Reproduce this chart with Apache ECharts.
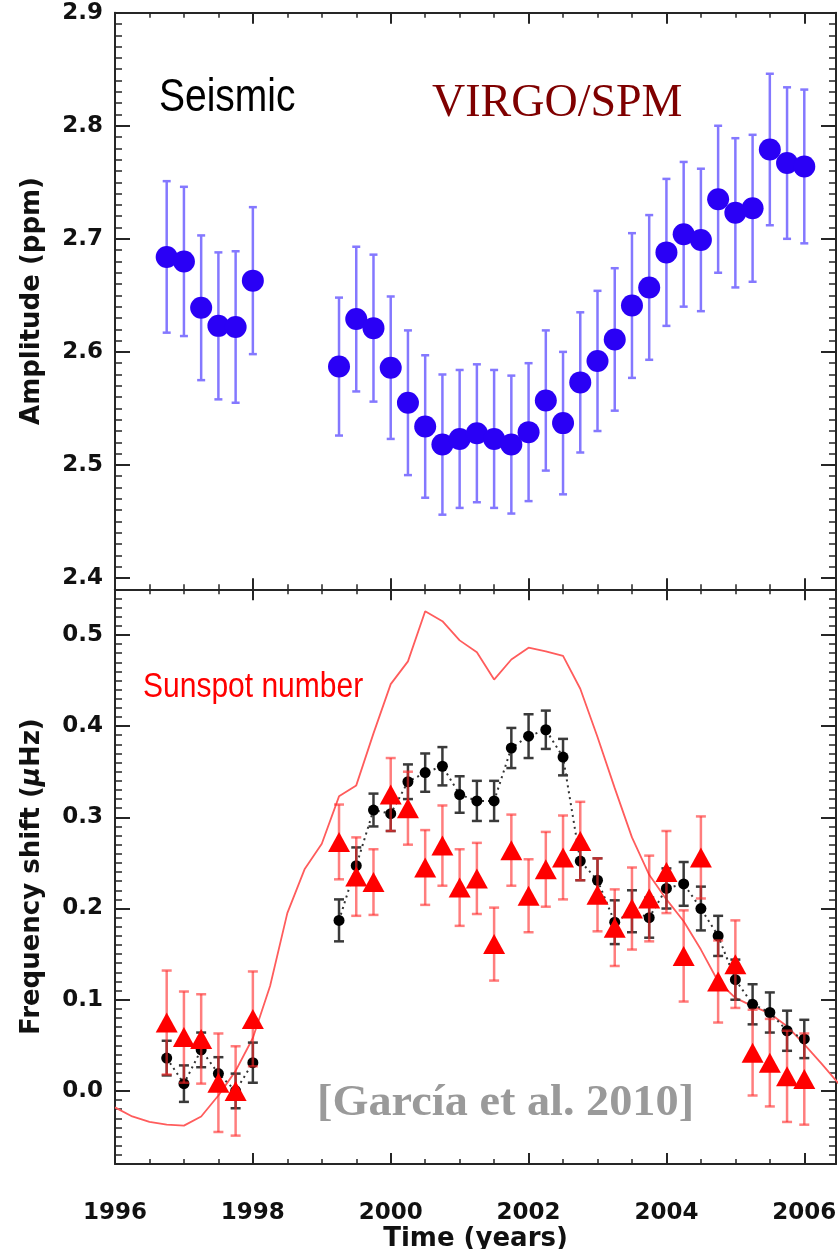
<!DOCTYPE html>
<html><head><meta charset="utf-8">
<script src="https://cdn.jsdelivr.net/npm/echarts@6/dist/echarts.min.js"></script>
<style>html,body{margin:0;padding:0;background:#fff}#c{width:838px;height:1249px}</style>
</head><body><div id="c"></div>
<script>
// ---------------- data ----------------
const years = [1996.75,1997,1997.25,1997.5,1997.75,1998,
  1999.25,1999.5,1999.75,2000,2000.25,2000.5,2000.75,2001,2001.25,2001.5,2001.75,
  2002,2002.25,2002.5,2002.75,2003,2003.25,2003.5,2003.75,2004,2004.25,2004.5,2004.75,
  2005,2005.25,2005.5,2005.75,2006];
const amplitude = [2.684,2.680,2.639,2.623,2.622,2.663,
  2.587,2.629,2.621,2.586,2.555,2.534,2.518,2.523,2.528,2.523,2.518,
  2.529,2.557,2.537,2.573,2.592,2.611,2.641,2.657,2.688,2.704,2.699,2.735,
  2.723,2.727,2.779,2.767,2.764];
const amplitudeErr = [0.067,0.066,0.064,0.065,0.067,0.065,
  0.061,0.064,0.065,0.063,0.064,0.063,0.062,0.061,0.061,0.061,0.061,
  0.061,0.062,0.063,0.062,0.062,0.063,0.064,0.064,0.065,0.064,0.063,0.065,
  0.066,0.065,0.067,0.067,0.068];
const freqShift = [0.036,0.008,0.045,0.019,0.000,0.031,
  0.187,0.247,0.308,0.304,0.339,0.349,0.356,0.325,0.318,0.318,0.376,
  0.389,0.396,0.366,0.252,0.231,0.185,0.197,0.190,0.222,0.227,0.200,0.170,
  0.122,0.095,0.086,0.066,0.057];
const freqShiftErr = [0.019,0.020,0.019,0.018,0.019,0.022,
  0.023,0.020,0.018,0.019,0.019,0.021,0.021,0.020,0.022,0.022,0.022,
  0.024,0.021,0.020,0.021,0.024,0.024,0.023,0.022,0.022,0.024,0.024,0.022,
  0.022,0.022,0.022,0.022,0.021];
const freqShiftSpm = [0.075,0.059,0.057,0.009,0.000,0.079,
  0.273,0.235,0.229,0.325,0.310,0.245,0.269,0.223,0.233,0.161,0.264,
  0.214,0.243,0.256,0.274,0.215,0.179,0.200,0.211,0.240,0.148,0.256,0.120,
  0.139,0.042,0.031,0.016,0.013];
const freqShiftSpmErr = [0.057,0.050,0.049,0.054,0.049,0.052,
  0.041,0.043,0.036,0.040,0.040,0.041,0.044,0.042,0.039,0.040,0.039,
  0.040,0.041,0.046,0.043,0.040,0.042,0.045,0.047,0.045,0.050,0.045,0.045,
  0.048,0.047,0.048,0.050,0.050];
const sunspotYears = [1996,1996.25,1996.5,1996.75,1997,1997.25,1997.5,1997.75,1998,1998.25,1998.5,1998.75,
  1999,1999.25,1999.5,1999.75,2000,2000.25,2000.5,2000.75,2001,2001.25,2001.5,2001.75,
  2002,2002.25,2002.5,2002.75,2003,2003.25,2003.5,2003.75,2004,2004.25,2004.5,2004.75,
  2005,2005.25,2005.5,2005.75,2006,2006.25,2006.5];
const sunspotScaled = [-0.018,-0.028,-0.034,-0.037,-0.038,-0.028,-0.005,0.022,0.058,0.115,0.195,0.243,
  0.271,0.323,0.335,0.392,0.446,0.471,0.526,0.515,0.494,0.481,0.451,0.473,
  0.486,0.482,0.477,0.441,0.388,0.332,0.278,0.237,0.210,0.186,0.155,0.120,
  0.102,0.093,0.085,0.071,0.051,0.030,0.008];
const xTickLabels = [1996,1998,2000,2002,2004,2006];
const ampTickLabels = [2.4,2.5,2.6,2.7,2.8,2.9];
const shiftTickLabels = [0.0,0.1,0.2,0.3,0.4,0.5];
const xRange = [1996, 2006.46];
const ampRange = [2.39, 2.9];
const shiftRange = [-0.08, 0.55];

// ---------------- helpers ----------------
const AX = '#262626';
const tickFont = {fontFamily:'DejaVu Sans', fontWeight:'bold', fontSize:23, color:'#111'};
const nameFont = {fontFamily:'DejaVu Sans', fontWeight:'bold', fontSize:26, color:'#111'};

function xAxisDef(gridIndex, position, interval, len, showLine, showLabel, width) {
  return {type:'value', gridIndex, position, min:xRange[0], max:xRange[1], interval,
    axisLine:{show:showLine, onZero:false, lineStyle:{color:AX, width:2}},
    axisTick:{show:len > 0, inside:true, length:len, lineStyle:{color:AX, width:width}},
    axisLabel:Object.assign({show:showLabel, margin:38, showMinLabel:true, showMaxLabel:true,
      formatter:function(v){ return xTickLabels.indexOf(Math.round(v*1000)/1000) >= 0 ? String(Math.round(v)) : ''; }}, tickFont),
    splitLine:{show:false}};
}
function yAxisDef(gridIndex, position, range, interval, len, showLine, showLabel, width, labels) {
  return {type:'value', gridIndex, position, min:range[0], max:range[1], interval,
    axisLine:{show:showLine, onZero:false, lineStyle:{color:AX, width:2}},
    axisTick:{show:len > 0, inside:true, length:len, lineStyle:{color:AX, width:width}},
    axisLabel:Object.assign({show:showLabel, margin:12,
      formatter:function(v){ return labels && labels.some(function(t){return Math.abs(t-v)<1e-6;}) ? v.toFixed(1) : ''; }}, tickFont),
    splitLine:{show:false}};
}
function errBar(color, width, cap) {
  return function(params, api) {
    const x = api.value(0), y = api.value(1), e = api.value(2);
    const t = api.coord([x, y + e]), b = api.coord([x, y - e]);
    const st = {stroke: color, lineWidth: width};
    return {type:'group', children:[
      {type:'line', shape:{x1:t[0], y1:t[1], x2:b[0], y2:b[1]}, style:st},
      {type:'line', shape:{x1:t[0]-cap, y1:t[1], x2:t[0]+cap, y2:t[1]}, style:st},
      {type:'line', shape:{x1:b[0]-cap, y1:b[1], x2:b[0]+cap, y2:b[1]}, style:st}
    ]};
  };
}
function zip3(a, b, c) { return a.map(function(v, i){ return [v, b[i], c[i]]; }); }
function withGaps(xs, ys) {
  const out = [];
  xs.forEach(function(x, i){
    if (i > 0 && x - xs[i-1] > 0.5) out.push([(x + xs[i-1]) / 2, '-']);
    out.push([x, ys[i]]);
  });
  return out;
}
function gridRect(top, height) {
  return {left:115, right:2, top:top, height:height, containLabel:false, outerBoundsMode:'none'};
}

const xInt = xTickLabels[1] - xTickLabels[0];
const option = {
  animation:false,
  backgroundColor:'#fff',
  grid:[
    gridRect(12.7, 576.6),    // 0 top data
    gridRect(589.3, 574.6),   // 1 bottom data
    gridRect(12.7, 565.3),    // 2 top major y ticks (2.4..2.9)
    gridRect(634.9, 456.0),   // 3 bottom major y ticks (0..0.5)
    gridRect(12.7, 576.6),    // 4 top minor ticks
    gridRect(589.3, 574.6)    // 5 bottom minor ticks
  ],
  xAxis:[
    xAxisDef(0,'bottom',xInt,11,true,false,2),
    xAxisDef(0,'top',xInt,11,true,false,2),
    Object.assign(xAxisDef(1,'bottom',xInt,11,true,true,2),
      {name:'Time (years)', nameLocation:'middle', nameGap:53, nameTextStyle:nameFont}),
    xAxisDef(1,'top',xInt,11,true,false,2),
    {type:'value', gridIndex:2, min:xRange[0], max:xRange[1], show:false},
    {type:'value', gridIndex:3, min:xRange[0], max:xRange[1], show:false},
    xAxisDef(4,'bottom',0.5,5,false,false,1.5),
    xAxisDef(4,'top',0.5,5,false,false,1.5),
    xAxisDef(5,'bottom',0.5,5,false,false,1.5),
    xAxisDef(5,'top',0.5,5,false,false,1.5)
  ],
  yAxis:[
    Object.assign(yAxisDef(0,'left',ampRange,null,0,true,false,2),
      {name:'Amplitude (ppm)', nameLocation:'middle', nameGap:70, nameTextStyle:nameFont}),
    Object.assign(yAxisDef(1,'left',shiftRange,null,0,true,false,2),
      {name:'{a|Frequency shift (}{b|\u03bc}{a|Hz)}', nameLocation:'middle', nameGap:70,
       nameTextStyle:Object.assign({}, nameFont, {rich:{
         a:{fontFamily:'DejaVu Sans', fontWeight:'bold', fontSize:26, color:'#111'},
         b:{fontFamily:'DejaVu Sans', fontWeight:'bold', fontStyle:'italic', fontSize:26, color:'#111'}}})}),
    yAxisDef(2,'left',[ampTickLabels[0], ampTickLabels[ampTickLabels.length-1]],0.1,15,false,true,2,ampTickLabels),
    yAxisDef(2,'right',[ampTickLabels[0], ampTickLabels[ampTickLabels.length-1]],0.1,15,false,false,2),
    yAxisDef(3,'left',[shiftTickLabels[0], shiftTickLabels[shiftTickLabels.length-1]],0.1,15,false,true,2,shiftTickLabels),
    yAxisDef(3,'right',[shiftTickLabels[0], shiftTickLabels[shiftTickLabels.length-1]],0.1,15,false,false,2),
    yAxisDef(4,'left',ampRange,0.01,7,false,false,1.5),
    yAxisDef(4,'right',ampRange,0.01,7,true,false,1.5),
    yAxisDef(5,'left',shiftRange,0.01,7,false,false,1.5),
    yAxisDef(5,'right',shiftRange,0.01,7,true,false,1.5)
  ],
  series:[
    {type:'custom', xAxisIndex:0, yAxisIndex:0, renderItem:errBar('#8478ff',2.5,4),
      data:zip3(years, amplitude, amplitudeErr), z:2},
    {type:'scatter', xAxisIndex:0, yAxisIndex:0, symbol:'circle', symbolSize:22,
      itemStyle:{color:'#2a00f5', opacity:1}, data:years.map(function(x,i){return [x, amplitude[i]];}), z:3},

    {type:'line', xAxisIndex:2, yAxisIndex:1, symbol:'none', smooth:false,
      lineStyle:{color:'#ff5c5c', width:1.8}, data:sunspotYears.map(function(x,i){return [x, sunspotScaled[i]];}), z:2},
    {type:'line', xAxisIndex:2, yAxisIndex:1, symbol:'none', connectNulls:false,
      lineStyle:{color:'#333', width:2, type:[2,4]}, data:withGaps(years, freqShift), z:2},
    {type:'custom', xAxisIndex:2, yAxisIndex:1, renderItem:errBar('#3a3a3a',2.5,5),
      data:zip3(years, freqShift, freqShiftErr), z:3},
    {type:'scatter', xAxisIndex:2, yAxisIndex:1, symbol:'circle', symbolSize:11,
      itemStyle:{color:'#000', opacity:1}, data:years.map(function(x,i){return [x, freqShift[i]];}), z:3},
    {type:'custom', xAxisIndex:2, yAxisIndex:1, renderItem:errBar('rgba(255,40,40,0.6)',2.5,5),
      data:zip3(years, freqShiftSpm, freqShiftSpmErr), z:4},
    {type:'scatter', xAxisIndex:2, yAxisIndex:1, symbol:'triangle', symbolSize:[22,20],
      itemStyle:{color:'#ff0000', opacity:1}, data:years.map(function(x,i){return [x, freqShiftSpm[i]];}), z:4}
  ],
  graphic:[
    {type:'text', x:159, y:98, scaleY:1.18, style:{text:'Seismic', font:'39px "Liberation Sans"', fill:'#000', align:'left', verticalAlign:'middle'}},
    {type:'text', x:432, y:104, style:{text:'VIRGO/SPM', font:'46px "Liberation Serif"', fill:'#7f0000', align:'left', verticalAlign:'middle'}},
    {type:'text', x:143, y:687, scaleY:1.18, style:{text:'Sunspot number', font:'30px "Liberation Sans"', fill:'#ff0000', align:'left', verticalAlign:'middle'}},
    {type:'text', x:317, y:1104, scaleX:1.052, style:{text:'[Garc\u00eda et al. 2010]', font:'bold 44px "Liberation Serif"', fill:'#9a9a9a', align:'left', verticalAlign:'middle'}}
  ]
};
const chart = echarts.init(document.getElementById('c'));
chart.setOption(option);
</script></body></html>
